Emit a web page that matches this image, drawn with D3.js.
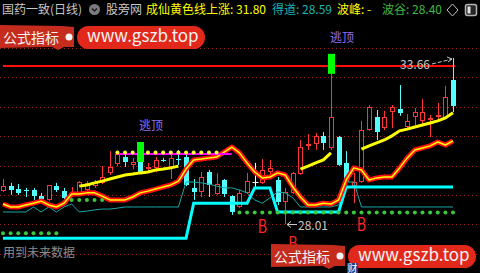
<!DOCTYPE html>
<html>
<head>
<meta charset="utf-8">
<script src="https://cdn.jsdelivr.net/npm/d3@7"></script>
<style>
    html, body { margin: 0; padding: 0; background: #000; }
    svg { display: block; }
    text { font-family: "Noto Sans CJK SC", "Noto Sans", sans-serif; }
</style>
</head>
<body>
<svg id="chart" width="480" height="273"></svg>
<script>
// 日K线
var opens  = [29.13,29.30,29.20,29.17,29.17,28.96,28.83,29.30,29.13,29.03,29.03,29.17,29.30,29.41,29.75,30.05,30.29,30.02,30.12,29.92,
              29.92,30.20,29.95,30.22,30.29,29.24,29.10,29.78,29.03,29.51,28.96,28.59,29.07,29.44,29.41,29.78,29.51,28.76,29.07,29.71,
              30.67,30.73,31.01,30.60,30.97,30.09,29.30,29.44,31.21,31.65,31.28,31.82,31.92,31.31,31.65,31.52,31.55,31.65,31.62,32.91];
var highs  = [29.54,29.41,29.37,29.24,29.24,29.07,29.34,29.41,29.24,29.27,29.47,29.47,29.51,29.98,30.49,30.46,30.43,30.26,30.12,30.09,
              30.29,30.26,30.43,30.53,30.36,29.54,29.78,29.85,29.75,29.54,28.99,29.17,29.75,30.09,30.22,30.19,29.61,29.24,29.78,30.87,
              31.07,31.11,31.14,33.12,31.01,30.49,29.75,31.52,32.06,31.89,31.86,32.06,32.74,31.75,31.96,32.26,31.72,32.13,32.71,33.66];
var lows   = [29.10,29.00,29.00,28.93,28.83,28.83,28.79,29.10,28.83,28.93,28.96,29.10,29.24,29.37,29.68,29.98,29.95,29.88,29.78,29.78,
              29.78,30.12,29.54,30.02,29.30,28.83,28.93,28.93,29.00,28.93,28.32,28.55,29.03,29.27,29.37,29.61,28.66,28.01,29.03,29.68,
              30.53,30.53,30.53,30.53,29.98,29.41,28.72,29.41,31.18,30.87,31.21,31.28,31.69,31.21,31.38,31.38,30.97,31.48,31.58,31.82];
var closes = [29.30,29.17,29.07,29.13,28.96,28.86,29.34,29.17,28.90,29.10,29.44,29.41,29.44,29.61,29.95,30.39,30.12,30.12,29.78,29.95,
              30.19,30.18,30.26,30.19,29.34,29.10,29.61,29.34,29.37,29.03,28.42,29.07,29.47,29.44,29.85,29.92,28.76,29.10,29.75,30.63,
              30.73,31.01,30.77,31.65,30.02,29.44,29.44,31.21,31.99,31.14,31.65,31.99,31.79,31.52,31.82,31.82,31.62,31.72,32.33,32.03];

// 红黄波浪线
var waveLine = [28.69,28.59,28.59,28.66,28.72,28.79,28.66,28.59,28.72,29.03,29.03,29.07,29.07,28.96,28.83,28.83,28.83,28.93,29.07,29.13,
                29.20,29.27,29.34,29.47,29.88,30.19,30.22,30.26,30.29,30.46,30.63,30.43,30.09,29.78,29.58,29.61,29.75,29.68,29.27,28.93,
                28.66,28.66,28.72,28.69,28.83,29.51,29.92,29.85,29.51,29.58,29.61,29.61,29.92,30.26,30.53,30.60,30.67,30.80,30.70,30.84];
// 成仙黄色线
var yellowLine = [null,null,null,null,null,null,null,null,null,null,29.30,29.34,29.41,29.47,29.54,29.61,29.68,29.71,29.75,29.78,
                  29.85,29.88,29.92,29.98,null,null,null,null,null,null,null,null,null,null,null,null,null,null,null,29.88,
                  29.98,30.09,30.19,30.43,null,null,null,30.56,30.67,30.77,30.87,31.01,31.18,31.24,31.31,31.38,31.45,31.52,31.62,31.80];
// 得道
var dedaoLine = [28.42,28.42,28.42,28.42,28.59,28.42,28.59,28.42,28.59,28.69,28.42,28.45,28.49,28.52,28.52,28.55,28.59,28.59,28.59,28.59,
                 28.59,28.59,28.59,28.59,29.44,29.44,29.41,29.37,29.30,29.24,29.24,29.17,29.07,28.83,28.72,28.90,29.10,29.07,28.90,28.59,
                 28.59,28.59,28.59,28.59,28.66,29.44,29.44,28.59,28.59,28.59,28.59,28.59,28.59,28.59,28.59,28.59,28.59,28.59,28.59,28.59];
// 支撑粗线
var supportLine = [27.53,27.53,27.53,27.53,27.53,27.53,27.53,27.53,27.53,27.53,27.53,27.53,27.53,27.53,27.53,27.53,27.53,27.53,27.53,27.53,
                   27.53,27.53,27.53,27.53,27.53,28.72,28.72,28.72,28.72,28.72,28.72,28.72,28.72,29.24,29.24,29.24,28.42,28.42,28.42,28.42,
                   28.42,28.42,28.42,28.42,28.42,29.27,29.27,29.27,29.27,29.27,29.27,29.27,29.27,29.27,29.27,29.27,29.27,29.27,29.27,29.27];
// 波谷点
var boguDots = [27.70,27.70,27.70,27.70,27.70,27.70,27.70,27.70,null,28.83,28.83,28.83,28.83,28.83,null,null,null,null,null,null,
                null,null,null,null,null,null,null,null,null,null,null,28.40,28.40,28.40,28.40,28.40,28.40,28.40,28.40,28.40,
                28.40,28.40,28.40,28.40,28.40,28.40,28.40,28.40,28.40,28.40,28.40,28.40,28.40,28.40,28.40,28.40,28.40,28.40,28.40,28.40];
// 紫色平台线与黄点
var peakLine = [null,null,null,null,null,null,null,null,null,null,null,null,null,null,null,30.39,30.39,30.39,30.39,30.39,
                30.39,30.39,30.39,30.39,30.39,30.39,30.39,30.39,30.39,30.39,30.39,null,null,null,null,null,null,null,null,null,
                null,null,null,null,null,null,null,null,null,null,null,null,null,null,null,null,null,null,null,null];
var peakDotIdx = [15,16,17,19,20,21,22,23,24,25,26,27,28];
var resistLevel = 33.39;
var taoIdx = [18, 43];
var bIdx = [34, 38, 47];
var bPrice = [27.98, 27.40, 28.04];
var gridPrices = [27, 28, 29, 30, 31, 32, 33, 34];

var n = closes.length;
var svg = d3.select("#chart");
var x = d3.scaleLinear().domain([0, n - 1]).range([3, 453]);
var y = d3.scaleLinear().domain([27, 34]).range([253.7, 48]);
var px = function (i) { return Math.round(x(i)); };

// 网格虚线
svg.append("g").selectAll("line")
    .data(gridPrices)
    .enter().append("line")
    .attr("x1", 0).attr("x2", 480)
    .attr("y1", function (d) { return Math.round(y(d)) + 0.5; })
    .attr("y2", function (d) { return Math.round(y(d)) + 0.5; })
    .attr("stroke", "#a01c1c")
    .attr("stroke-dasharray", "1,3");

// 压力线
svg.append("line")
    .attr("x1", x(0)).attr("x2", x(n - 1) + 2)
    .attr("y1", y(resistLevel)).attr("y2", y(resistLevel))
    .attr("stroke", "#ff1010").attr("stroke-width", 2);

// K线
var candles = svg.append("g").selectAll("g")
    .data(d3.range(n))
    .enter().append("g");

candles.each(function (i) {
    var g = d3.select(this);
    var cx = px(i) + 0.5;
    var o = opens[i], c = closes[i];
    var top = Math.round(y(Math.max(o, c))), bot = Math.round(y(Math.min(o, c)));
    var hi = y(highs[i]), lo = y(lows[i]);
    if (c > o) {
        g.append("line").attr("x1", cx).attr("x2", cx).attr("y1", hi).attr("y2", top)
            .attr("stroke", "#ff3434");
        g.append("line").attr("x1", cx).attr("x2", cx).attr("y1", bot).attr("y2", lo)
            .attr("stroke", "#ff3434");
        g.append("rect")
            .attr("x", cx - 2).attr("y", top + 0.5)
            .attr("width", 4).attr("height", Math.max(bot - top - 1, 1))
            .attr("fill", "#000").attr("stroke", "#ff3434");
    } else if (c < o) {
        g.append("line").attr("x1", cx).attr("x2", cx).attr("y1", hi).attr("y2", lo)
            .attr("stroke", "#54ffff");
        g.append("rect")
            .attr("x", cx - 2.5).attr("y", top)
            .attr("width", 5).attr("height", Math.max(bot - top, 1))
            .attr("fill", "#54ffff");
    } else {
        g.append("line").attr("x1", cx).attr("x2", cx).attr("y1", hi).attr("y2", lo)
            .attr("stroke", "#ffffff");
        g.append("line").attr("x1", cx - 3).attr("x2", cx + 3).attr("y1", top + 0.5).attr("y2", top + 0.5)
            .attr("stroke", "#ffffff");
    }
});

var line = d3.line()
    .defined(function (d) { return d != null; })
    .x(function (d, i) { return x(i); })
    .y(function (d) { return y(d); });

svg.append("path").datum(dedaoLine).attr("d", line)
    .attr("fill", "none").attr("stroke", "#18a8a8").attr("stroke-width", 1);

svg.append("path").datum(supportLine).attr("d", line)
    .attr("fill", "none").attr("stroke", "#00ffff").attr("stroke-width", 3);

svg.append("path").datum(waveLine).attr("d", line)
    .attr("fill", "none").attr("stroke", "#ff1010").attr("stroke-width", 5)
    .attr("stroke-linejoin", "round");
svg.append("path").datum(waveLine).attr("d", line)
    .attr("fill", "none").attr("stroke", "#ffff00").attr("stroke-width", 1.5)
    .attr("stroke-linejoin", "round");

svg.append("path").datum(yellowLine).attr("d", line)
    .attr("fill", "none").attr("stroke", "#ffff00").attr("stroke-width", 3);

svg.append("path").datum(peakLine).attr("d", line)
    .attr("fill", "none").attr("stroke", "#ff00ff").attr("stroke-width", 2);

svg.append("g").selectAll("circle")
    .data(peakDotIdx)
    .enter().append("circle")
    .attr("cx", function (i) { return x(i); })
    .attr("cy", function (i) { return y(peakLine[i]) - 1.5; })
    .attr("r", 2)
    .attr("fill", "#ffff30");

svg.append("g").selectAll("circle")
    .data(d3.range(n).filter(function (i) { return boguDots[i] != null; }))
    .enter().append("circle")
    .attr("cx", function (i) { return x(i); })
    .attr("cy", function (i) { return y(boguDots[i]); })
    .attr("r", 2)
    .attr("fill", "#3cc83c");

// 逃顶信号
var tao = svg.append("g").selectAll("g")
    .data(taoIdx)
    .enter().append("g");
tao.append("rect")
    .attr("x", function (i) { return px(i) - 3; })
    .attr("y", function (i) { return y(highs[i]) - 20; })
    .attr("width", 7).attr("height", 20)
    .attr("fill", "#00ff00");
tao.append("text")
    .attr("x", function (i) { return px(i) - 1; })
    .attr("y", function (i) { return y(highs[i]) - 32; })
    .attr("font-size", "12px")
    .attr("fill", "#8f6ff5")
    .text("逃顶");

// B 买点
svg.append("g").selectAll("text")
    .data(bIdx)
    .enter().append("text")
    .attr("transform", function (d, k) { return "translate(" + x(d) + "," + y(bPrice[k]) + ") scale(0.78,1)"; })
    .attr("text-anchor", "middle")
    .attr("dominant-baseline", "central")
    .attr("font-family", "Liberation Sans")
    .attr("font-size", "18px")
    .attr("fill", "#ff2424")
    .text("B");

// 最高价 / 最低价标注
var hiI = d3.maxIndex(highs), loI = d3.minIndex(lows);
var hx = px(hiI), hy = y(highs[hiI]);
svg.append("text")
    .attr("x", hx - 23).attr("y", hy + 11)
    .attr("text-anchor", "end")
    .attr("font-family", "Liberation Sans").attr("font-size", "12px")
    .attr("fill", "#c8c8c8")
    .text(d3.format(".2f")(highs[hiI]));
svg.append("line")
    .attr("x1", hx - 21).attr("y1", hy + 6).attr("x2", hx - 1).attr("y2", hy + 1)
    .attr("stroke", "#c8c8c8").attr("stroke-dasharray", "4,2");
svg.append("path")
    .attr("d", "M" + (hx - 6) + "," + (hy - 1) + "L" + (hx - 1) + "," + (hy + 1) + "L" + (hx - 5) + "," + (hy + 4))
    .attr("fill", "none").attr("stroke", "#c8c8c8");

var lx = px(loI), ly = Math.round(y(lows[loI])) + 0.5;
svg.append("line")
    .attr("x1", lx + 2).attr("y1", ly).attr("x2", lx + 12).attr("y2", ly)
    .attr("stroke", "#c8c8c8");
svg.append("path")
    .attr("d", "M" + (lx + 6) + "," + (ly - 3) + "L" + (lx + 2) + "," + ly + "L" + (lx + 6) + "," + (ly + 3))
    .attr("fill", "none").attr("stroke", "#c8c8c8");
svg.append("text")
    .attr("x", lx + 13).attr("y", ly + 5)
    .attr("font-family", "Liberation Sans").attr("font-size", "12px")
    .attr("fill", "#c8c8c8")
    .text(d3.format(".2f")(lows[loI]));

// 标题栏
var head = svg.append("g").attr("font-size", "12px");
head.append("text").attr("x", 2).attr("y", 14).attr("fill", "#c8c8c8").text("国药一致(日线)");
head.append("circle").attr("cx", 94.5).attr("cy", 9.5).attr("r", 5.5).attr("fill", "#7c7c7c");
head.append("path").attr("d", "M92,8.5L94.5,11L97,8.5").attr("fill", "none")
    .attr("stroke", "#1c1c1c").attr("stroke-width", 1.5);
head.append("text").attr("x", 106).attr("y", 14).attr("fill", "#c8c8c8").text("股旁网");
head.append("text").attr("x", 146).attr("y", 14).attr("fill", "#ffff00")
    .text("成仙黄色线上涨: " + d3.format(".2f")(yellowLine[n - 1]));
head.append("text").attr("x", 272).attr("y", 14).attr("fill", "#1cb4b4")
    .text("得道: " + d3.format(".2f")(dedaoLine[n - 1]));
head.append("text").attr("x", 337).attr("y", 14).attr("fill", "#ffff00").text("波峰: -");
head.append("text").attr("x", 382).attr("y", 14).attr("fill", "#3cb83c")
    .text("波谷: " + d3.format(".2f")(boguDots[n - 1]));
head.append("path").attr("d", "M452.5,4L458,10L452.5,16L447,10Z")
    .attr("fill", "none").attr("stroke", "#c0c0c0");
head.append("rect").attr("x", 465.5).attr("y", 4.5).attr("width", 11).attr("height", 11).attr("rx", 2)
    .attr("fill", "#262626").attr("stroke", "#b4b4b4").attr("stroke-width", 1.5);
head.append("rect").attr("x", 467.5).attr("y", 6.5).attr("width", 3).attr("height", 7).attr("fill", "#e0e0e0");

svg.append("text").attr("x", 3).attr("y", 257).attr("font-size", "12px")
    .attr("fill", "#8c8c8c").text("用到未来数据");

// 水印
function banner(ox, oy) {
    var g = svg.append("g").attr("transform", "translate(" + ox + "," + oy + ")");
    g.append("path")
        .attr("d", "M0,0L62,1L74,2L74,22L64,22L58,25L52,22L0,23Z")
        .attr("fill", "#c62c1e");
    g.append("text").attr("x", 3).attr("y", 18).attr("font-size", "14px")
        .attr("fill", "#f4f4f4").text("公式指标");
    g.append("circle").attr("cx", 69).attr("cy", 12).attr("r", 3.5).attr("fill", "#f4f4f4");
    g.append("rect").attr("x", 77).attr("y", 1).attr("width", 128).attr("height", 23).attr("rx", 11.5)
        .attr("fill", "#e2281a");
    g.append("text").attr("x", 87).attr("y", 17).attr("font-family", "Liberation Sans")
        .attr("font-size", "17px").attr("fill", "#f4f4f4").text("www.gszb.top");
    return g;
}
banner(0, 25);
var b2 = banner(271, 244);
b2.append("rect").attr("x", 76).attr("y", 19).attr("width", 11).attr("height", 10).attr("fill", "#1c3c8c");
b2.append("text").attr("x", 76.5).attr("y", 28).attr("font-size", "10px").attr("fill", "#ffffff").text("财");
</script>
</body>
</html>
